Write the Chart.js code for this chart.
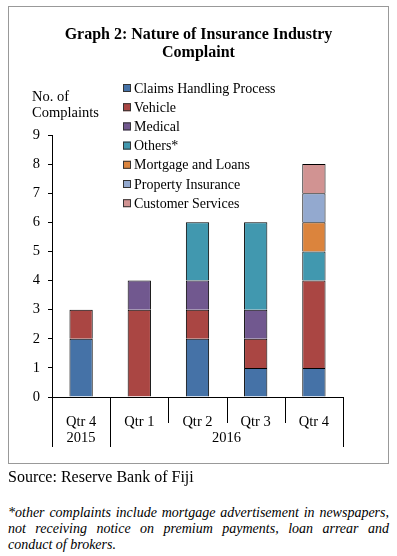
<!DOCTYPE html>
<html>
<head>
<meta charset="utf-8">
<script src="https://cdn.jsdelivr.net/npm/chart.js@4"></script>
<style>
  body { margin: 0; background: #fff; width: 397px; height: 556px; position: relative; font-family: 'Liberation Serif', serif; color: #000; }
  #frame { position: absolute; left: 8px; top: 6px; width: 379px; height: 456px; border: 1px solid #999; }
  #chartWrap { position: absolute; left: 0; top: 0; width: 397px; height: 470px; }
  .title { position: absolute; left: 8px; width: 381px; top: 25px; text-align: center; font-weight: bold; font-size: 16px; line-height: 18px; }
  .ylab { position: absolute; left: 32px; top: 88px; font-size: 14.5px; line-height: 16px; }
  .source { position: absolute; left: 8px; top: 468px; font-size: 16px; }
  .note { position: absolute; left: 8px; width: 381px; top: 505px; font-size: 14px; line-height: 16px; font-style: italic; text-align: justify; }
</style>
</head>
<body>
<div id="frame"></div>
<div id="chartWrap"><canvas id="chart" width="397" height="470"></canvas></div>
<div class="title">Graph 2: Nature of Insurance Industry<br>Complaint</div>
<div class="ylab">No. of<br>Complaints</div>
<div class="source">Source: Reserve Bank of Fiji</div>
<div class="note">*other complaints include mortgage advertisement in newspapers, not receiving notice on premium payments, loan arrear and conduct of brokers.</div>

<script>
// quarters and the year each group of quarters belongs to
const quarters = ['Qtr 4', 'Qtr 1', 'Qtr 2', 'Qtr 3', 'Qtr 4'];
const years = ['2015', '2016'];
const yearSpans = [1, 4];

// complaints per category
const claims = [2, 0, 2, 1, 1];
const vehicle = [1, 3, 1, 1, 3];
const medical = [0, 1, 1, 1, 0];
const others = [0, 0, 2, 3, 1];
const mortgage = [0, 0, 0, 0, 1];
const property = [0, 0, 0, 0, 1];
const customer = [0, 0, 0, 0, 1];

const yTicks = [0, 1, 2, 3, 4, 5, 6, 7, 8, 9];

const series = [
  { label: 'Claims Handling Process', data: claims, color: '#4572A7' },
  { label: 'Vehicle', data: vehicle, color: '#AA4643' },
  { label: 'Medical', data: medical, color: '#71588F' },
  { label: 'Others*', data: others, color: '#4198AF' },
  { label: 'Mortgage and Loans', data: mortgage, color: '#DB843D' },
  { label: 'Property Insurance', data: property, color: '#93A9CF' },
  { label: 'Customer Services', data: customer, color: '#D19392' }
];

const FONT = 'Liberation Serif';

// legend drawn inside the plot area
const legendBox = {
  id: 'legendBox',
  afterDraw(chart) {
    const ctx = chart.ctx;
    ctx.save();
    ctx.font = '14px "' + FONT + '"';
    ctx.textBaseline = 'middle';
    chart.data.datasets.forEach((ds, i) => {
      const y = 88 + i * 19.2;
      ctx.fillStyle = ds.backgroundColor;
      ctx.fillRect(123, y - 4, 8, 8);
      ctx.strokeStyle = '#333';
      ctx.lineWidth = 1;
      ctx.strokeRect(123.5, y - 3.5, 7, 7);
      ctx.fillStyle = '#000';
      ctx.fillText(ds.label, 134, y + 1);
    });
    ctx.restore();
  }
};

// category separators and the year row under the quarters
const groupAxis = {
  id: 'groupAxis',
  afterDraw(chart) {
    const ctx = chart.ctx;
    const x = chart.scales.x;
    const half = (x.getPixelForValue(1) - x.getPixelForValue(0)) / 2;
    const top = chart.chartArea.bottom;
    const bounds = [];
    for (let i = 0; i <= quarters.length; i++) bounds.push(x.getPixelForValue(i) - half);
    const yearEdges = [0];
    yearSpans.forEach(s => yearEdges.push(yearEdges[yearEdges.length - 1] + s));

    ctx.save();
    ctx.strokeStyle = '#000';
    ctx.lineWidth = 1;
    bounds.forEach((bx, i) => {
      const long = yearEdges.includes(i);
      const px = Math.round(bx) + 0.5;
      ctx.beginPath();
      ctx.moveTo(px, top);
      ctx.lineTo(px, long ? top + 50 : top + 26);
      ctx.stroke();
    });
    ctx.fillStyle = '#000';
    ctx.font = '14.5px "' + FONT + '"';
    ctx.textAlign = 'center';
    ctx.textBaseline = 'middle';
    years.forEach((yr, i) => {
      const cx = (bounds[yearEdges[i]] + bounds[yearEdges[i + 1]]) / 2;
      ctx.fillText(yr, cx, top + 41);
    });
    ctx.restore();
  }
};

new Chart(document.getElementById('chart'), {
  type: 'bar',
  data: {
    labels: quarters,
    datasets: series.map(s => ({
      label: s.label,
      data: s.data,
      backgroundColor: s.color,
      borderColor: '#000',
      borderWidth: c => (c.raw ? 1 : 0),
      borderSkipped: 'start',
      barPercentage: 0.4,
      categoryPercentage: 1
    }))
  },
  options: {
    responsive: false,
    animation: false,
    layout: { padding: { top: 135, right: 54, bottom: 23, left: 0 } },
    plugins: { legend: { display: false }, tooltip: { enabled: false } },
    scales: {
      x: {
        stacked: true,
        grid: { display: false },
        border: { display: true, color: '#000', width: 1 },
        ticks: { color: '#000', padding: 8, font: { family: FONT, size: 14.5 } },
        afterFit: s => { s.height = 50; }
      },
      y: {
        stacked: true,
        min: 0,
        max: 9,
        afterBuildTicks: s => { s.ticks = yTicks.map(v => ({ value: v })); },
        grid: { display: true, drawOnChartArea: false, drawTicks: true, tickLength: 4, color: '#000' },
        border: { display: true, color: '#000', width: 1 },
        ticks: { color: '#000', padding: 8, font: { family: FONT, size: 14.5 } },
        afterFit: s => { s.width = 52; }
      }
    }
  },
  plugins: [legendBox, groupAxis]
});
</script>
</body>
</html>
